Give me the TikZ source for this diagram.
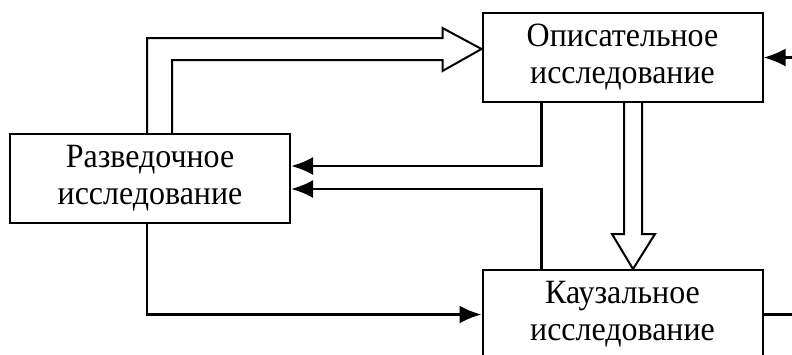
\documentclass[tikz,border=0pt]{standalone}
\usepackage{fontspec}
\setmainfont[FakeStretch=0.94]{Liberation Serif}
\usetikzlibrary{arrows.meta,calc}
\begin{document}
\begin{tikzpicture}[x=0.5pt,y=-0.5pt]
\tikzstyle{study}  = [rectangle, minimum width=140pt, minimum height=44.5pt, align=center, draw=black, line width=1pt, font=\fontsize{17}{18.5}\selectfont]
\tikzstyle{link}   = [line width=1.4pt, -{Latex[length=11pt,width=9pt]}]
\tikzstyle{plain}  = [line width=1.4pt]
\tikzstyle{hollow} = [line width=1pt, line join=miter]

\useasboundingbox (0,0) rectangle (792,354);

\node (explor) [study] at (150,178.5)   {Разведочное\\исследование};
\node (descr)  [study] at (622.5,57.5)  {Описательное\\исследование};
\node (causal) [study] at (622.5,314.5) {Каузальное\\исследование};

\coordinate (inR)  at (792,57.5);
\coordinate (outR) at (792,314.5);

% hollow arrows
\draw [hollow] ($(explor.north west)+(138,0)$) |- ($(descr.west)+(-39,-19.5)$) -- ++(0,-10)
  -- ($(descr.west)+(0,-8.5)$) -- ($(descr.west)+(-39,13.5)$) -- ++(0,-11) -| ($(explor.north west)+(163,0)$);
\draw [hollow] ($(descr.south)+(1.5,0)$) -- ($(causal.north)+(1.5,-35)$) -- ++(-12,0)
  -- ($(causal.north)+(10.5,0)$) -- ($(causal.north)+(32.5,-35)$) -- ++(-13,0) -- ($(descr.south)+(19.5,0)$);

% feedback and flow
\draw [link] ($(descr.south west)+(60,0)$)  |- ($(explor.north east)+(0,33)$);
\draw [link] ($(causal.north west)+(60,0)$) |- ($(explor.north east)+(0,56)$);
\draw [link] ($(explor.south west)+(138,0)$) |- (causal.west);
\draw [link] (inR) -- (descr.east);
\draw [plain] (causal.east) -- (outR);
\end{tikzpicture}
\end{document}
